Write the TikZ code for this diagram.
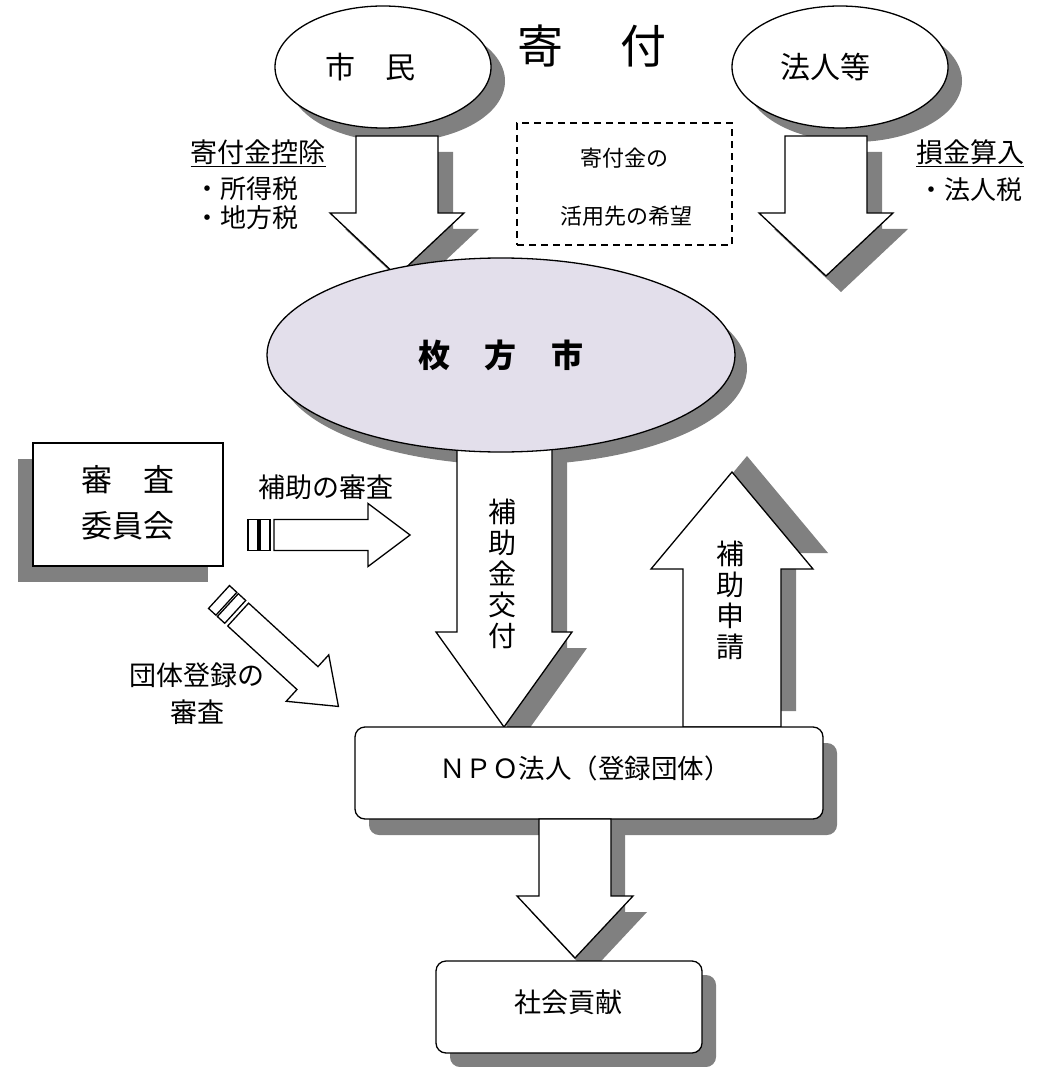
\documentclass[tikz,border=0pt]{standalone}
\usepackage{fontspec}
\setmainfont{Noto Sans CJK JP}
\usetikzlibrary{shapes.geometric}
\definecolor{shd}{RGB}{128,128,128}
\definecolor{lav}{RGB}{227,223,235}
\newcommand\StripArrow{%
  \draw[outl] (0,-15.5) rectangle (10,15.5);
  \draw[outl] (12,-15.5) rectangle (22,15.5);
  \draw[outl] (26,-15.5) -- (120,-15.5) -- (120,-31.5) -- (162,0) -- (120,31.5) -- (120,15.5) -- (26,15.5) -- cycle;}
\begin{document}
\begin{tikzpicture}[x=1pt,y=-1pt,line width=1.3pt,line join=miter,
  outl/.style={draw=black,fill=white},
  shdw/.style={fill=shd,draw=none},
  txt/.style={inner sep=0pt,font=\fontsize{#1}{#1}\selectfont},
  vtxt/.style={inner sep=0pt,align=center,font=\fontsize{28}{31}\selectfont}]
\useasboundingbox (0,0) rectangle (1039,1067);

% title
\node (title) [txt=46] at (592,46) {寄\hspace{58pt}付};

% citizens
\fill[shdw] (397,81) ellipse [x radius=108pt, y radius=61pt];
\node (shimin) [ellipse,outl,minimum width=216pt,minimum height=122pt,inner sep=0pt] at (383,67) {};
\node (shimintxt) [txt=30] at (370,67) {市　民};
% corporations
\fill[shdw] (854,81) ellipse [x radius=108pt, y radius=61pt];
\node (hojin) [ellipse,outl,minimum width=216pt,minimum height=122pt,inner sep=0pt] at (840,67) {};
\node (hojintxt) [txt=30] at (825,67) {法人等};

% arrows from donors
\fill[shdw,shift={(15,16)}] (356,136) -- (356,213) -- (330,213) -- (397,276) -- (464,213) -- (438,213) -- (438,136) -- cycle;
\draw[outl] (356,136) -- (356,213) -- (330,213) -- (397,276) -- (464,213) -- (438,213) -- (438,136) -- cycle;
\fill[shdw,shift={(15,16)}] (785,136) -- (785,213) -- (759,213) -- (826,276) -- (893,213) -- (867,213) -- (867,136) -- cycle;
\draw[outl] (785,136) -- (785,213) -- (759,213) -- (826,276) -- (893,213) -- (867,213) -- (867,136) -- cycle;

% labels
\node (kojo) [txt=27] at (258,153) {\underline{寄付金控除}};
\node (shotoku) [txt=26] at (246,189) {・所得税};
\node (chiho) [txt=26] at (246,218) {・地方税};
\node (songin) [txt=27] at (970,153) {\underline{損金算入}};
\node (hojinzei) [txt=26] at (970,190) {・法人税};

% dashed box
\node (kibo) [draw,dash pattern=on 7pt off 5pt,line width=1.2pt,minimum width=215pt,minimum height=122pt] at (624.5,184) {};
\node (kibo1) [txt=22] at (624,158) {寄付金の};
\node (kibo2) [txt=22] at (626,216) {活用先の希望};

% city ellipse shadow
\fill[shdw] (513,368) ellipse [x radius=234pt, y radius=97pt];
% arrows between city and NPO
\fill[shdw,shift={(15,16)}] (457,440) -- (457,632) -- (436,632) -- (504,727) -- (572,632) -- (552,632) -- (552,440) -- cycle;
\fill[shdw,shift={(15,-16)}] (683,727) -- (683,569) -- (651,569) -- (732,472) -- (813,569) -- (781,569) -- (781,727) -- cycle;
\draw[outl] (457,440) -- (457,632) -- (436,632) -- (504,727) -- (572,632) -- (552,632) -- (552,440) -- cycle;
\draw[outl] (683,727) -- (683,569) -- (651,569) -- (732,472) -- (813,569) -- (781,569) -- (781,727) -- cycle;
\node (kofu) [vtxt] at (502,574) {補\\助\\金\\交\\付};
\node (shinsei) [vtxt] at (730,600) {補\\助\\申\\請};

% city
\node (city) [ellipse,draw=black,fill=lav,minimum width=468pt,minimum height=194pt,inner sep=0pt] at (501,355) {};
\node (citytxt) [txt=32] at (501,355) {\bfseries 枚\hspace{35pt}方\hspace{35pt}市};

% committee
\fill[shdw] (18,459) rectangle (208,582);
\node (iinkai) [outl,minimum width=190pt,minimum height=123pt,inner sep=0pt] at (128,504.5) {};
\node (iinkai1) [txt=31] at (128,480) {審　査};
\node (iinkai2) [txt=31] at (128,526) {委員会};

% striped arrows
\begin{scope}[shift={(248,535)}]
  \StripArrow
\end{scope}
\begin{scope}[shift={(219,597)},rotate=-42.5]
  \StripArrow
\end{scope}
\node (hojoshinsa) [txt=27] at (326,487) {補助の審査};
\node (dantai1) [txt=27] at (196.5,675) {団体登録の};
\node (dantai2) [txt=27] at (197,712) {審査};

% NPO
\fill[shdw,rounded corners=10pt] (369,743) rectangle (837,835);
\node (npo) [outl,rounded corners=10pt,minimum width=468pt,minimum height=92pt,inner sep=0pt] at (589,773) {};
\node (npotxt) [txt=26.5] at (585,768) {ＮＰＯ法人（登録団体）};

% arrow to society
\fill[shdw,shift={(14,16)}] (539,819) -- (539,896) -- (517,896) -- (575,958) -- (633,896) -- (611,896) -- (611,819) -- cycle;
\draw[outl] (539,819) -- (539,896) -- (517,896) -- (575,958) -- (633,896) -- (611,896) -- (611,819) -- cycle;

% society
\fill[shdw,rounded corners=10pt] (450,975) rectangle (716,1067);
\node (shakai) [outl,rounded corners=10pt,minimum width=266pt,minimum height=92pt,inner sep=0pt] at (569,1007) {};
\node (shakaitxt) [txt=27] at (568,1002) {社会貢献};
\end{tikzpicture}
\end{document}
